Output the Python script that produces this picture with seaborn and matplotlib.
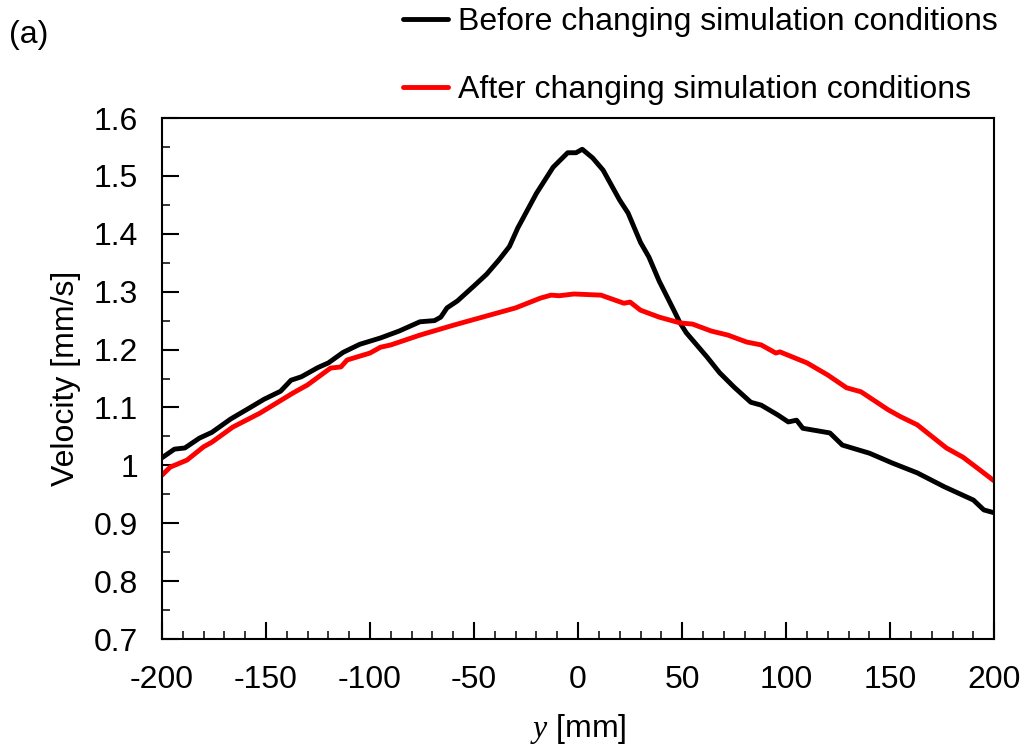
import numpy as np
import pandas as pd
import matplotlib
matplotlib.use("Agg")
import matplotlib.pyplot as plt
import seaborn as sns
from matplotlib.ticker import MultipleLocator, FuncFormatter
from matplotlib.lines import Line2D

# ---- data ----
before_y = [-200, -194, -189, -182, -176, -167, -158, -151, -143, -138, -133, -125, -120,
            -113, -105, -95, -86, -76, -69, -66, -63, -58, -50, -44, -38, -33, -29, -20,
            -12, -5, -1, 2, 7, 12, 20, 24, 30, 34, 39, 46, 49, 52, 62, 68, 75, 83, 88,
            96, 101, 105, 108, 121, 127, 140, 151, 163, 176, 190, 195, 200]
before_v = [1.013, 1.028, 1.030, 1.047, 1.057, 1.080, 1.099, 1.114, 1.128, 1.147, 1.153,
            1.169, 1.177, 1.195, 1.209, 1.220, 1.232, 1.248, 1.250, 1.256, 1.272, 1.284,
            1.310, 1.330, 1.355, 1.378, 1.410, 1.470, 1.515, 1.540, 1.540, 1.546, 1.531,
            1.510, 1.458, 1.436, 1.385, 1.360, 1.318, 1.268, 1.246, 1.229, 1.187, 1.160,
            1.135, 1.109, 1.104, 1.087, 1.075, 1.078, 1.064, 1.056, 1.035, 1.021, 1.004,
            0.987, 0.963, 0.940, 0.923, 0.918]

after_y = [-200, -196, -188, -180, -176, -166, -153, -137, -130, -119, -114, -111, -100,
           -95, -90, -76, -60, -49, -30, -18, -13, -9, -2, 11, 22, 25, 30, 39, 49, 55,
           64, 72, 81, 88, 95, 97, 110, 120, 129, 136, 149, 155, 163, 177, 185, 192, 200]
after_v = [0.983, 0.997, 1.009, 1.032, 1.040, 1.066, 1.090, 1.125, 1.139, 1.168, 1.170,
           1.182, 1.194, 1.204, 1.208, 1.225, 1.242, 1.253, 1.272, 1.289, 1.294, 1.293,
           1.296, 1.294, 1.280, 1.282, 1.268, 1.256, 1.246, 1.244, 1.232, 1.225, 1.213,
           1.208, 1.194, 1.196, 1.177, 1.156, 1.134, 1.127, 1.096, 1.084, 1.070, 1.030,
           1.014, 0.995, 0.973]

labels = ["Before changing simulation conditions", "After changing simulation conditions"]
colors = ["#000000", "#ff0000"]

x_ticks = [-200, -150, -100, -50, 0, 50, 100, 150, 200]
y_ticks = [0.7, 0.8, 0.9, 1.0, 1.1, 1.2, 1.3, 1.4, 1.5, 1.6]

df = pd.concat([
    pd.DataFrame({"y": before_y, "v": before_v, "series": labels[0]}),
    pd.DataFrame({"y": after_y, "v": after_v, "series": labels[1]}),
], ignore_index=True)

sns.set_theme(style="white")
plt.rcParams["font.family"] = ["Liberation Sans", "DejaVu Sans"]
plt.rcParams["axes.unicode_minus"] = False
plt.rcParams["mathtext.fontset"] = "custom"
plt.rcParams["mathtext.it"] = "Liberation Serif:italic"
plt.rcParams["mathtext.rm"] = "Liberation Serif"
plt.rcParams["text.color"] = "black"
plt.rcParams["axes.labelcolor"] = "black"

FS = 23

fig = plt.figure(figsize=(10.25, 7.54), dpi=100)
ax = fig.add_axes([0.158, 0.1525, 0.812, 0.691])

sns.lineplot(data=df, x="y", y="v", hue="series", palette=dict(zip(labels, colors)),
             estimator=None, sort=False, linewidth=3.5, ax=ax, legend=False)

ax.set_xlim(-200, 200)
ax.set_ylim(0.7, 1.6)
ax.set_xticks(x_ticks)
ax.set_yticks(y_ticks)
ax.xaxis.set_minor_locator(MultipleLocator(10))
ax.yaxis.set_minor_locator(MultipleLocator(0.05))
ax.yaxis.set_major_formatter(FuncFormatter(lambda v, p: f"{v:g}"))
ax.xaxis.set_major_formatter(FuncFormatter(lambda v, p: f"{v:g}"))

ax.tick_params(axis="both", which="major", direction="in", length=12, width=1.5,
               labelsize=FS, colors="black", top=False, right=False,
               left=True, bottom=True)
ax.tick_params(axis="both", which="minor", direction="in", length=6, width=1.3,
               top=False, right=False, left=True, bottom=True)
ax.tick_params(axis="y", which="major", pad=17)
ax.tick_params(axis="x", which="major", pad=19)
for s in ax.spines.values():
    s.set_color("black")
    s.set_linewidth(1.5)

ax.set_ylabel("Velocity [mm/s]", fontsize=FS, color="black", labelpad=9)
ax.set_xlabel("$y$ [mm]", fontsize=FS, color="black", labelpad=12)

handles = [Line2D([], [], color=c, linewidth=3.5) for c in colors]
fig.legend(handles, labels, loc="upper left", bbox_to_anchor=(0.393, 0.991),
           frameon=False, fontsize=FS, handlelength=1.4, handletextpad=0.32,
           labelspacing=1.2, borderpad=0, borderaxespad=0, labelcolor="black")

fig.text(0.009, 0.953, "(a)", fontsize=FS, color="black", va="center", ha="left")

fig.savefig("out.png", dpi=100)
